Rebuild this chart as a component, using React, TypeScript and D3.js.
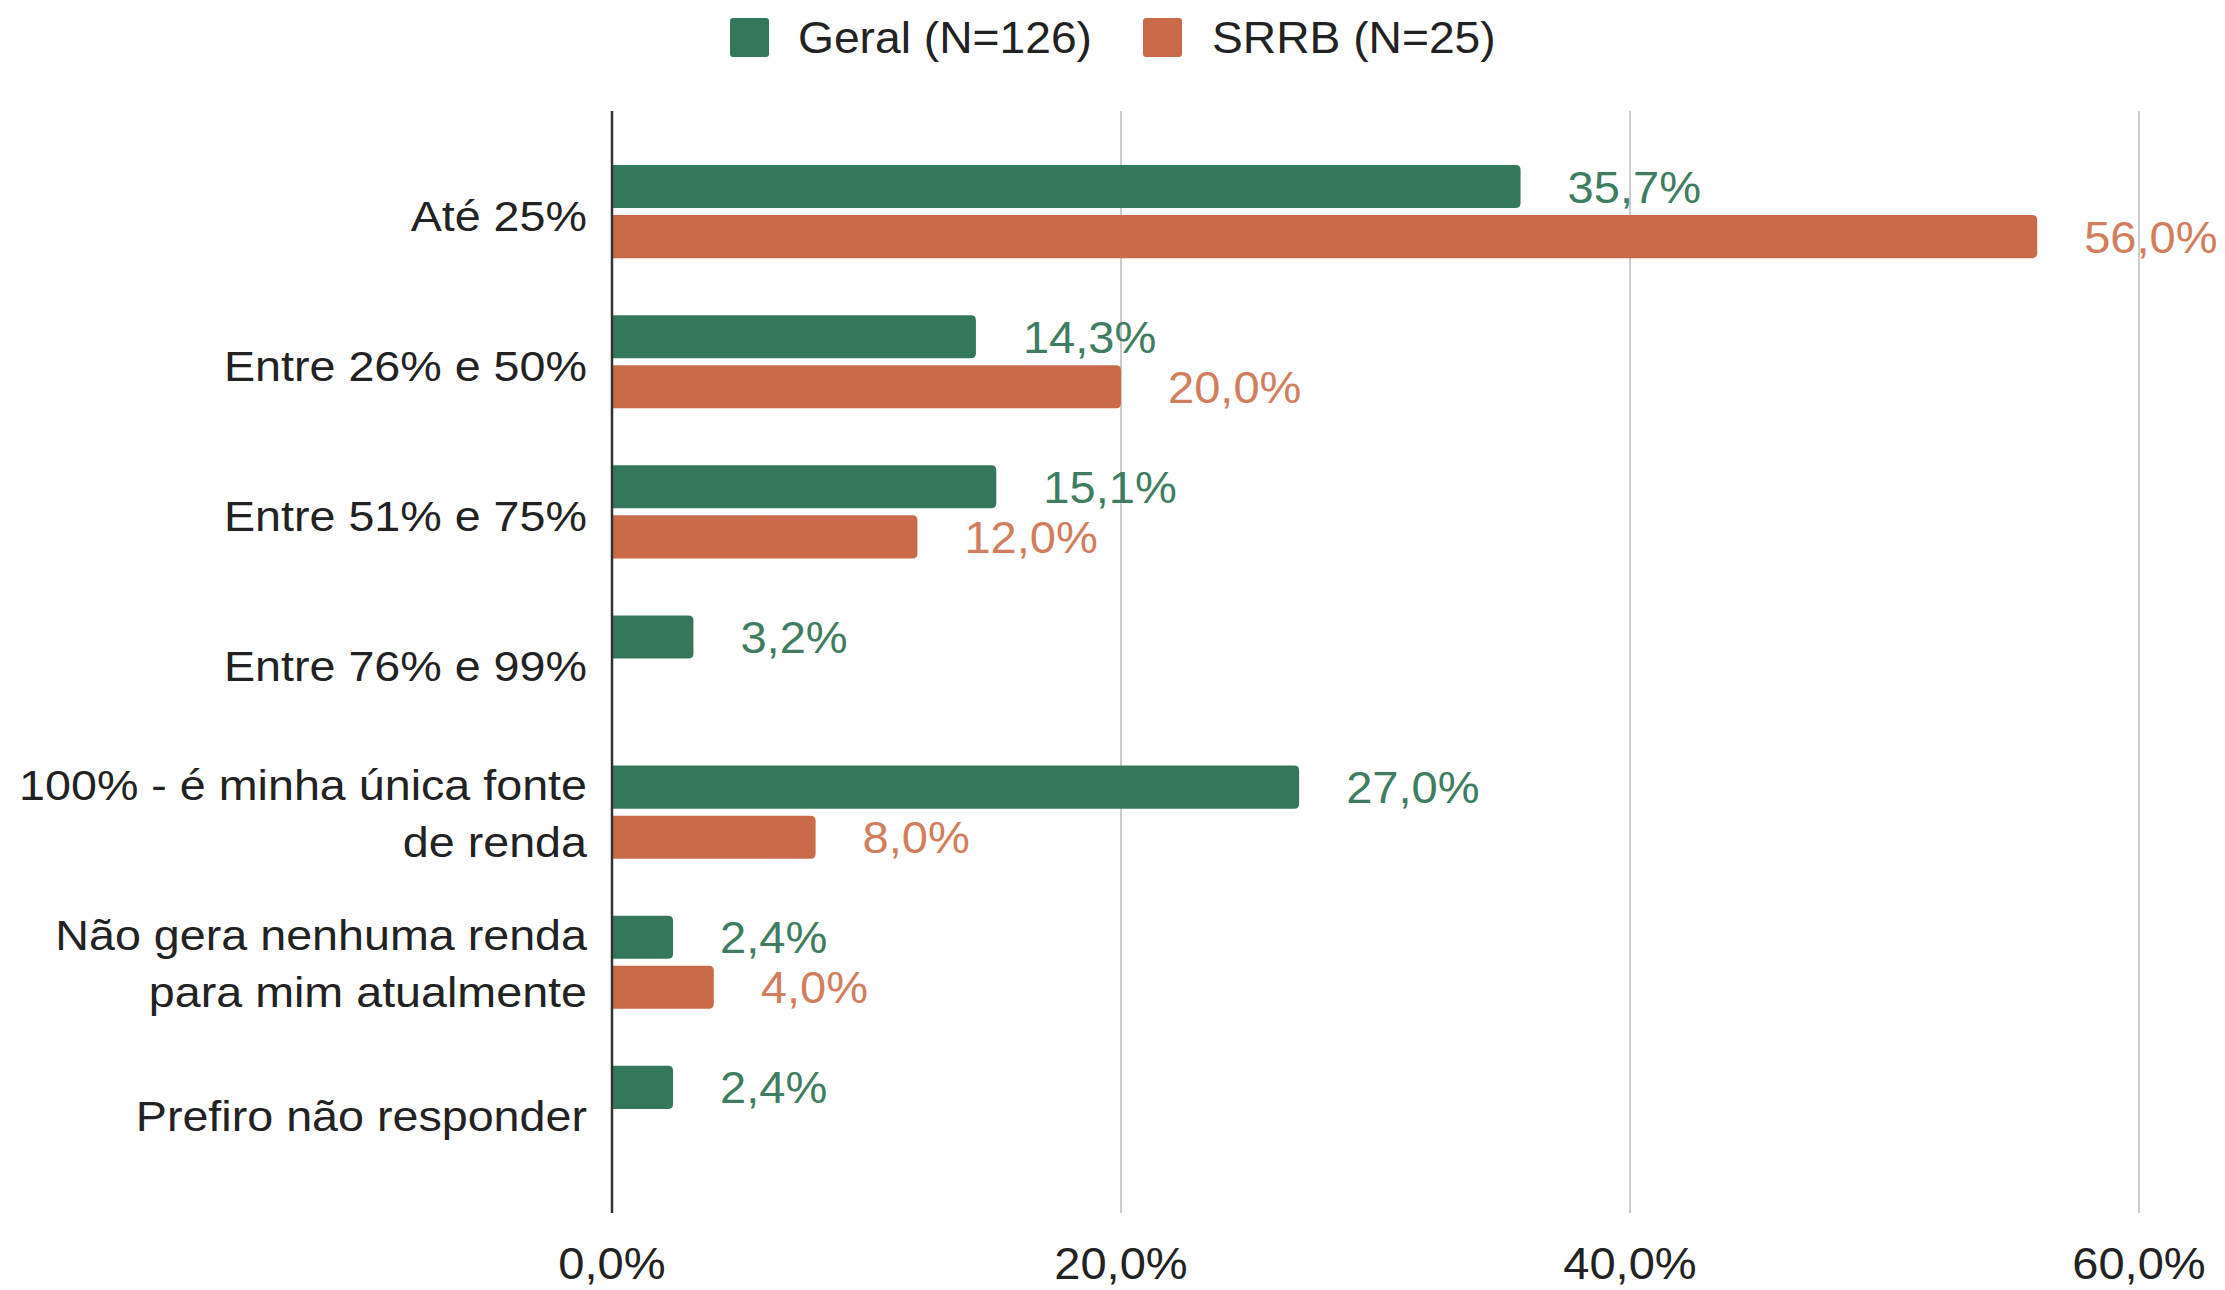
import React from "react";
import * as d3 from "d3";

const categories = [
  "Até 25%",
  "Entre 26% e 50%",
  "Entre 51% e 75%",
  "Entre 76% e 99%",
  "100% - é minha única fonte de renda",
  "Não gera nenhuma renda para mim atualmente",
  "Prefiro não responder",
];
const categoryLines: string[][] = [
  ["Até 25%"],
  ["Entre 26% e 50%"],
  ["Entre 51% e 75%"],
  ["Entre 76% e 99%"],
  ["100% - é minha única fonte", "de renda"],
  ["Não gera nenhuma renda", "para mim atualmente"],
  ["Prefiro não responder"],
];
const seriesNames = ["Geral (N=126)", "SRRB (N=25)"];
const geral: (number | null)[] = [35.7, 14.3, 15.1, 3.2, 27.0, 2.4, 2.4];
const srrb: (number | null)[] = [56.0, 20.0, 12.0, null, 8.0, 4.0, null];
const xTicks = [0, 20, 40, 60];

const barColors = ["#35775a", "#c96b49"];
const labelColors = ["#3e7d60", "#d17e5c"];

const W = 2225;
const H = 1290;
const FONT = "'Liberation Sans', Arial, sans-serif";

const fmt = (v: number) => d3.format(".1f")(v).replace(".", ",") + "%";

function barPath(x0: number, x1: number, y: number, h: number, r: number) {
  const rr = Math.min(r, (x1 - x0) / 2, h / 2);
  return `M${x0},${y}H${x1 - rr}Q${x1},${y} ${x1},${y + rr}V${y + h - rr}Q${x1},${y + h} ${x1 - rr},${y + h}H${x0}Z`;
}

function T(props: {
  x: number;
  y: number;
  size: number;
  fill: string;
  sx: number;
  anchor?: "start" | "middle" | "end";
  children: React.ReactNode;
}) {
  return (
    <text
      transform={`translate(${props.x},${props.y}) scale(${props.sx},1)`}
      x={0}
      y={0}
      fontSize={props.size}
      fill={props.fill}
      textAnchor={props.anchor || "start"}
    >
      {props.children}
    </text>
  );
}

export default function App() {
  const top = 111;
  const bottom = 1213;
  const x = d3.scaleLinear().domain([0, 60]).range([612, 2139]);
  const y0 = d3
    .scaleBand<string>()
    .domain(categories)
    .range([top, bottom])
    .paddingInner(0)
    .paddingOuter(0.17);
  const y1 = d3
    .scaleBand<string>()
    .domain(seriesNames)
    .range([0, y0.step()])
    .paddingInner(0.14)
    .paddingOuter(0.57);

  const seriesData = [geral, srrb];

  return (
    <svg
      width={W}
      height={H}
      style={{ position: "absolute", left: 0, top: 0, background: "#fff" }}
      fontFamily={FONT}
    >
      <rect width={W} height={H} fill="#fff" />
      {/* legend */}
      <g>
        <rect x={730} y={18} width={39} height={39} rx={3} fill={barColors[0]} />
        <T x={798} y={53} size={44} sx={1.05} fill="#222">
          {seriesNames[0]}
        </T>
        <rect x={1143} y={18} width={39} height={39} rx={3} fill={barColors[1]} />
        <T x={1212} y={53} size={44} sx={1.05} fill="#222">
          {seriesNames[1]}
        </T>
      </g>
      {/* gridlines */}
      {xTicks.map((t) =>
        t === 0 ? null : (
          <line key={"g" + t} x1={x(t)} x2={x(t)} y1={top} y2={bottom} stroke="#cccccc" strokeWidth={2} />
        )
      )}
      {/* bars */}
      {categories.map((c, i) => {
        const by = y0(c)!;
        return (
          <g key={c}>
            {seriesData.map((s, si) => {
              const v = s[i];
              if (v == null) return null;
              const yy = by + y1(seriesNames[si])!;
              const h = y1.bandwidth();
              return (
                <g key={si}>
                  <path d={barPath(x(0), x(v), yy, h, 5)} fill={barColors[si]} />
                  <T x={x(v) + 47} y={yy + h / 2 + 16} size={44} sx={1.07} fill={labelColors[si]}>
                    {fmt(v)}
                  </T>
                </g>
              );
            })}
          </g>
        );
      })}
      {/* category labels */}
      {categories.map((c, i) => {
        const cy = y0(c)! + y0.bandwidth() / 2;
        const lines = categoryLines[i];
        const baselines = lines.length === 1 ? [cy + 19] : [cy - 12, cy + 45];
        return (
          <g key={"l" + c}>
            {lines.map((ln, li) => (
              <T key={li} x={587} y={baselines[li]} size={43} sx={1.085} fill="#222" anchor="end">
                {ln}
              </T>
            ))}
          </g>
        );
      })}
      {/* axis */}
      <line x1={x(0)} x2={x(0)} y1={top} y2={bottom} stroke="#333" strokeWidth={2.5} />
      {xTicks.map((t) => (
        <T key={"t" + t} x={x(t)} y={1279} size={44} sx={1.07} fill="#222" anchor="middle">
          {fmt(t)}
        </T>
      ))}
    </svg>
  );
}
